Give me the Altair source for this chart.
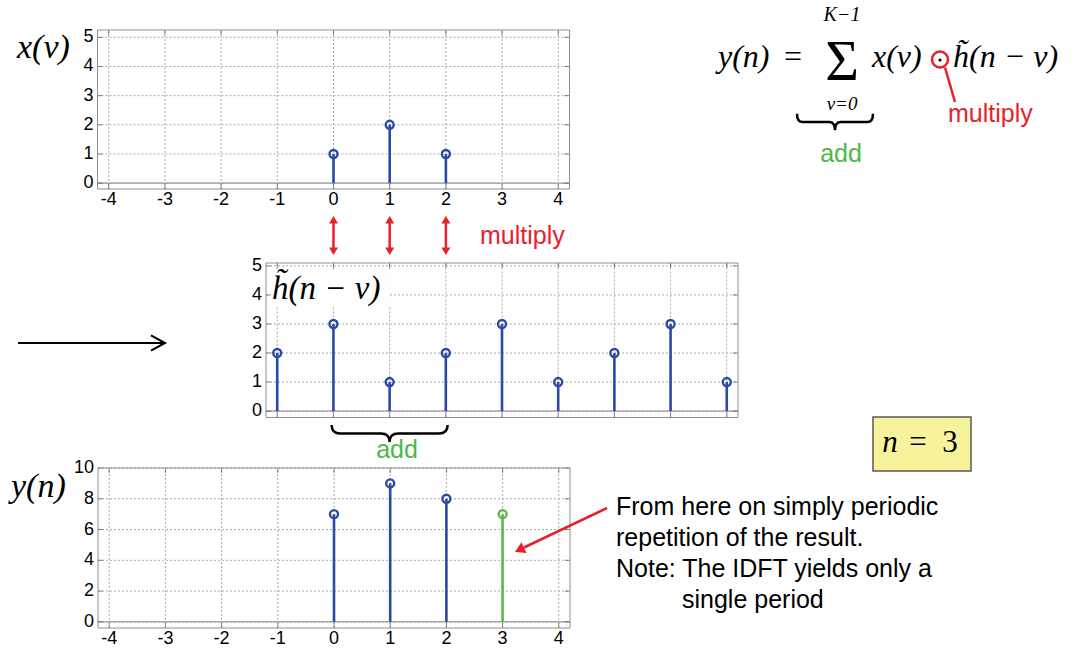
import altair as alt
import pandas as pd

# x(nu): the finite input sequence
x_nu = [0, 1, 2]
x_val = [1, 2, 1]

# h~(n - nu) for n = 3, periodically continued
h_nu = [-1, 0, 1, 2, 3, 4, 5, 6, 7]
h_val = [2, 3, 1, 2, 3, 1, 2, 3, 1]

# y(n) computed so far; n_now is the sample that was just added
y_n = [0, 1, 2, 3]
y_val = [7, 9, 8, 7]
n_now = 3

# tick values of the three panels
pos_ticks = [-4, -3, -2, -1, 0, 1, 2, 3, 4]
x_amp_ticks = [0, 1, 2, 3, 4, 5]
h_pos_ticks = [-1, 0, 1, 2, 3, 4, 5, 6, 7]
h_amp_ticks = [0, 1, 2, 3, 4, 5]
y_amp_ticks = [0, 2, 4, 6, 8, 10]

W, H = 1073, 653
BLUE = "#2b4aa6"
GREEN = "#5cb947"
RED = "#e5222a"
TXT_GREEN = "#4db848"
GRID = "#aaaaaa"
FRAME = "#8f8f8f"
TICK = "#555555"
SANS = "Liberation Sans"
SERIF = "Liberation Serif"

ONE = pd.DataFrame({"k": [0]})

HEAD = "M 0 0 L -1 -0.6 L -1 0.6 Z"          # filled arrow head, tip at origin, pointing +x
OPEN_HEAD = "M -1 -0.55 L 0 0 L -1 0.55"     # open arrow head


def brace(h):
    return (f"M -1 {-h} Q -1 0 -0.85 0 L -0.15 0 Q 0 0 0 {h} "
            f"Q 0 0 0.15 0 L 0.85 0 Q 1 0 1 {-h}")


def axes_frame(box, xdom, ydom, xticks, yticks, show_xlabels):
    """Grid, tick marks, tick labels and box of one stem panel."""
    left, right, top, bottom = box
    xs = alt.Scale(domain=xdom, range=[left, right], nice=False, zero=False)
    ys = alt.Scale(domain=ydom, range=[bottom, top], nice=False, zero=False)
    xt = pd.DataFrame({"t": xticks})
    yt = pd.DataFrame({"t": yticks})

    def XF(f):
        return alt.X(f, type="quantitative", scale=xs, axis=None)

    def YF(f):
        return alt.Y(f, type="quantitative", scale=ys, axis=None)

    def XD(v):
        return alt.XDatum(v, type="quantitative", scale=xs, axis=None)

    def YD(v):
        return alt.YDatum(v, type="quantitative", scale=ys, axis=None)

    vgrid = alt.Chart(xt).mark_rule(color=GRID, strokeDash=[2, 2], strokeWidth=1).encode(
        x=XF("t"), y=YD(ydom[0]), y2=alt.Y2Datum(ydom[1]))
    hgrid = alt.Chart(yt).mark_rule(color=GRID, strokeDash=[2, 2], strokeWidth=1).encode(
        y=YF("t"), x=XD(xdom[0]), x2=alt.X2Datum(xdom[1]))
    base = alt.Chart(ONE).mark_rule(color="#9a9a9a", strokeWidth=1.2).encode(
        y=YD(0), x=XD(xdom[0]), x2=alt.X2Datum(xdom[1]))

    xtick_b = alt.Chart(xt).mark_tick(orient="vertical", size=5, thickness=1,
                                      color=TICK, yOffset=-2.5).encode(x=XF("t"), y=YD(ydom[0]))
    xtick_t = alt.Chart(xt).mark_tick(orient="vertical", size=5, thickness=1,
                                      color=TICK, yOffset=2.5).encode(x=XF("t"), y=YD(ydom[1]))
    ytick_l = alt.Chart(yt).mark_tick(orient="horizontal", size=5, thickness=1,
                                      color=TICK, xOffset=2.5).encode(y=YF("t"), x=XD(xdom[0]))
    ytick_r = alt.Chart(yt).mark_tick(orient="horizontal", size=5, thickness=1,
                                      color=TICK, xOffset=-2.5).encode(y=YF("t"), x=XD(xdom[1]))
    frame = alt.Chart(ONE).mark_rect(fillOpacity=0, stroke=FRAME, strokeWidth=1).encode(
        x=XD(xdom[0]), x2=alt.X2Datum(xdom[1]), y=YD(ydom[0]), y2=alt.Y2Datum(ydom[1]))

    # tick labels (plain hyphen for negative numbers)
    ylab = alt.Chart(yt).transform_calculate(lbl="'' + datum.t").mark_text(
        font=SANS, fontSize=18, color="black", align="right", baseline="middle").encode(
        y=YF("t"), x=alt.value(left - 4), text="lbl:N")
    front = [xtick_b, xtick_t, ytick_l, ytick_r, frame, ylab]
    if show_xlabels:
        xlab = alt.Chart(xt).transform_calculate(lbl="'' + datum.t").mark_text(
            font=SANS, fontSize=18, color="black", align="center", baseline="top").encode(
            x=XF("t"), y=alt.value(bottom + 2), text="lbl:N")
        front.append(xlab)

    back = [vgrid, hgrid, base]
    return xs, ys, back, front


def stems(df, xs, ys, color):
    enc_x = alt.X("n:Q", scale=xs, axis=None)
    enc_y = alt.Y("v:Q", scale=ys, axis=None)
    lines = alt.Chart(df).mark_rule(strokeWidth=2.6).encode(
        x=enc_x, y=enc_y, y2=alt.Y2Datum(0), color=color)
    heads = alt.Chart(df).mark_point(filled=False, size=64, strokeWidth=2.4, opacity=1).encode(
        x=enc_x, y=enc_y, color=color)
    return [lines, heads]


def txt(s, x, y, size, color="black", font=SANS, align="left",
        baseline="alphabetic", style="normal"):
    return alt.Chart(ONE).mark_text(
        text=s, font=font, fontSize=size, fontStyle=style, color=color,
        align=align, baseline=baseline).encode(x=alt.value(x), y=alt.value(y))


# ---------------- top panel: x(nu) ----------------
xs1, ys1, back1, front1 = axes_frame((97.5, 569.5, 30, 189), [-4.2, 4.2], [-0.2, 5.25],
                                     pos_ticks, x_amp_ticks, True)
x_df = pd.DataFrame({"n": x_nu, "v": x_val})
mult_df = pd.DataFrame({"n": x_nu})
mult_shaft = alt.Chart(mult_df).mark_rule(color=RED, strokeWidth=2.5).encode(
    x=alt.X("n:Q", scale=xs1, axis=None), y=alt.value(222), y2=alt.value(249))
mult_up = alt.Chart(mult_df).mark_point(shape=HEAD, filled=True, size=225, angle=270,
                                        color=RED, opacity=1).encode(
    x=alt.X("n:Q", scale=xs1, axis=None), y=alt.value(216))
mult_dn = alt.Chart(mult_df).mark_point(shape=HEAD, filled=True, size=225, angle=90,
                                        color=RED, opacity=1).encode(
    x=alt.X("n:Q", scale=xs1, axis=None), y=alt.value(255))
top_panel = alt.layer(*back1, *stems(x_df, xs1, ys1, alt.value(BLUE)), *front1,
                      mult_shaft, mult_up, mult_dn)

# ---------------- middle panel: h~(n - nu) ----------------
xs2, ys2, back2, front2 = axes_frame((266, 738, 263, 417.5), [-1.2, 7.2], [-0.22, 5.1],
                                     h_pos_ticks, h_amp_ticks, False)
h_df = pd.DataFrame({"n": h_nu, "v": h_val})
h_label_bg = alt.Chart(ONE).mark_rect(color="white").encode(
    x=alt.value(268), x2=alt.value(390), y=alt.value(270), y2=alt.value(307))
h_label = txt("h\u0303(n \u2212 \u03bd)", 272, 299, 33, font=SERIF, style="italic")
add_brace = alt.Chart(pd.DataFrame({"n": [1]})).mark_point(
    shape=brace(0.147), filled=False, size=116 ** 2, strokeWidth=2.5,
    color="black", opacity=1).encode(
    x=alt.X("n:Q", scale=xs2, axis=None), y=alt.value(433.5))
mid_panel = alt.layer(*back2, h_label_bg, h_label, *stems(h_df, xs2, ys2, alt.value(BLUE)),
                      *front2, add_brace)

# ---------------- bottom panel: y(n) ----------------
xs3, ys3, back3, front3 = axes_frame((98, 570, 468, 628), [-4.2, 4.2], [-0.4, 10],
                                     pos_ticks, y_amp_ticks, True)
y_df = pd.DataFrame({"n": y_n, "v": y_val})
y_color = alt.condition(f"datum.n == {n_now}", alt.value(GREEN), alt.value(BLUE))
bot_panel = alt.layer(*back3, *stems(y_df, xs3, ys3, y_color), *front3)

# ---------------- formula and notes ----------------
notes = [
    txt("x(\u03bd)", 17, 58, 34, font=SERIF, style="italic"),
    txt("y(n)", 11, 497, 34, font=SERIF, style="italic"),

    # y(n) = sum_{nu=0}^{K-1} x(nu) . h~(n - nu)
    txt("y(n)", 718, 67, 32, font=SERIF, style="italic"),
    txt("=", 793, 67, 32, font=SERIF, align="center"),
    txt("\u03a3", 842, 80, 58, font=SERIF, align="center"),
    txt("K\u22121", 842, 21, 20, font=SERIF, style="italic", align="center"),
    txt("\u03bd=0", 842, 110, 19, font=SERIF, style="italic", align="center"),
    txt("x(\u03bd)", 872, 67, 32, font=SERIF, style="italic"),
    txt("h\u0303(n \u2212 \u03bd)", 953, 67, 32, font=SERIF, style="italic"),
    alt.Chart(ONE).mark_point(filled=True, size=10, color="black", opacity=1).encode(
        x=alt.value(940), y=alt.value(60)),
    alt.Chart(ONE).mark_point(filled=False, size=256, strokeWidth=2.5, color=RED,
                              opacity=1).encode(x=alt.value(940), y=alt.value(59.5)),
    alt.Chart(ONE).mark_rule(color=RED, strokeWidth=2.5).encode(
        x=alt.value(945), y=alt.value(67.5), x2=alt.value(955), y2=alt.value(102)),
    txt("multiply", 948, 122, 25, color=RED),
    alt.Chart(ONE).mark_point(shape=brace(0.22), filled=False, size=76 ** 2,
                              strokeWidth=2.5, color="black", opacity=1).encode(
        x=alt.value(835), y=alt.value(122)),
    txt("add", 841, 162, 25, color=TXT_GREEN, align="center"),

    # labels between the panels
    txt("multiply", 480, 244, 25, color=RED),
    txt("add", 397, 458, 25, color=TXT_GREEN, align="center"),

    # arrow into the middle row
    alt.Chart(ONE).mark_rule(color="black", strokeWidth=2).encode(
        x=alt.value(18), x2=alt.value(164), y=alt.value(343)),
    alt.Chart(ONE).mark_point(shape=OPEN_HEAD, filled=False, size=28 ** 2,
                              strokeWidth=2, color="black", opacity=1).encode(
        x=alt.value(165), y=alt.value(343)),

    # n = 3 box
    alt.Chart(ONE).mark_rect(fill="#f6f39c", stroke="#5a5a5a", strokeWidth=1.5).encode(
        x=alt.value(873), x2=alt.value(971), y=alt.value(417), y2=alt.value(471)),
    txt("n", 890, 452, 31, font=SERIF, style="italic", align="center"),
    txt("=", 918, 452, 31, font=SERIF, align="center"),
    txt("3", 950, 452, 31, font=SERIF, align="center"),

    # explanatory note with pointer to the new sample
    txt("From here on simply periodic", 616, 515, 25),
    txt("repetition of the result.", 616, 546, 25),
    txt("Note: The IDFT yields only a", 616, 577, 25),
    txt("single period", 682, 608, 25),
    alt.Chart(ONE).mark_rule(color=RED, strokeWidth=2.5).encode(
        x=alt.value(607), y=alt.value(508), x2=alt.value(524), y2=alt.value(547.5)),
    alt.Chart(ONE).mark_point(shape=HEAD, filled=True, size=20 ** 2, angle=154,
                              color=RED, opacity=1).encode(
        x=alt.value(515), y=alt.value(552)),
]

chart = alt.layer(top_panel, mid_panel, bot_panel, *notes).resolve_scale(
    x="independent", y="independent"
).properties(
    width=W, height=H, autosize="none", padding=0, background="white"
).configure_view(stroke="transparent")

chart.save("out.html", embed_options={"renderer": "svg", "actions": False})
